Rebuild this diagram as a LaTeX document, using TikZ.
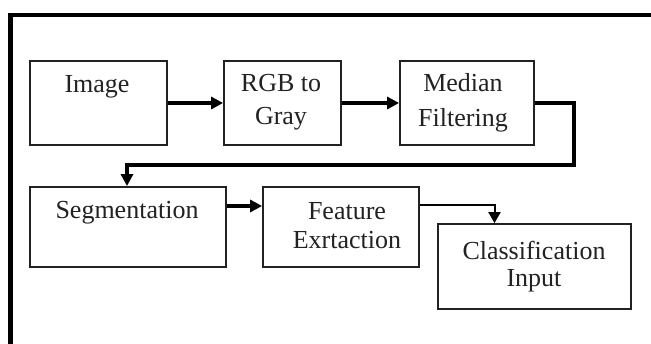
\documentclass[tikz,border=0pt]{standalone}
\usepackage{fontspec}
\setmainfont{Liberation Serif}
\usetikzlibrary{arrows.meta}
\definecolor{ink}{HTML}{222222}
\begin{document}
\begin{tikzpicture}[x=1pt,y=-1pt,
  blk/.style={draw=ink,line width=1.8pt,rectangle,inner sep=0pt},
  lbl/.style={text=ink,align=center,inner sep=0pt,font=\fontsize{26}{32}\selectfont},
  thickarrow/.style={line width=4pt,-{Triangle[length=12pt,width=12pt]}},
  thinarrow/.style={line width=2pt,-{Triangle[length=11pt,width=12pt]}}]
\useasboundingbox (0,0) rectangle (651,344);
\fill[white] (0,0) rectangle (651,344);
% outer frame (cut off at right and bottom)
\coordinate (fbl) at (10.5,350);
\coordinate (ftl) at (10.5,15);
\coordinate (ftr) at (660,15);
\draw[line width=4.5pt] (fbl) -- (ftl) -- (ftr);
% boxes
\node[blk,minimum width=137pt,minimum height=84pt] (img) at (98.5,103) {};
\node[blk,minimum width=117pt,minimum height=84pt] (rgb) at (282.5,103) {};
\node[blk,minimum width=134pt,minimum height=84pt] (med) at (467,103) {};
\node[blk,minimum width=196pt,minimum height=80pt] (seg) at (128,227) {};
\node[blk,minimum width=156pt,minimum height=80pt] (feat) at (341,227) {};
\node[blk,minimum width=193pt,minimum height=85pt] (cls) at (534.5,266.5) {};
% labels
\node[lbl] (timg) at (97,87) {Image};
\node[lbl,font=\fontsize{26}{33}\selectfont] (trgb) at (281,102.5) {RGB to\\Gray};
\node[lbl,font=\fontsize{26}{35}\selectfont] (tmed) at (463,102.5) {Median\\Filtering};
\node[lbl] (tseg) at (127,213) {Segmentation};
\node[lbl,font=\fontsize{26}{29}\selectfont] (tfeat) at (347,225.5) {Feature\\Exrtaction};
\node[lbl,font=\fontsize{26}{27}\selectfont] (tcls) at (534,267) {Classification\\Input};
% connectors
\draw[thickarrow] (img.east) -- (rgb.west);
\draw[thickarrow] (rgb.east) -- (med.west);
\coordinate (turn) at (574,165);
\draw[thickarrow] (med.east) -| (turn) -| ([xshift=-1pt]seg.north);
\draw[thickarrow] ([yshift=21pt]seg.east) -- ([yshift=21pt]feat.west);
\draw[thinarrow] ([yshift=22pt]feat.east) -| ([xshift=-40pt]cls.north);
\end{tikzpicture}
\end{document}
